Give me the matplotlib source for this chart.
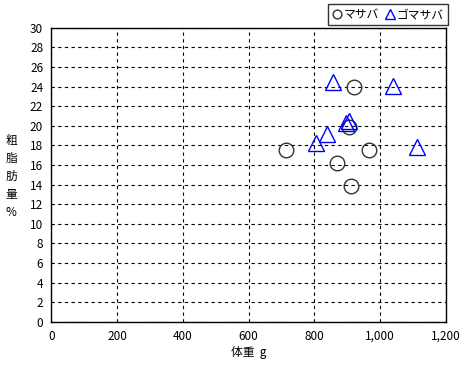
import matplotlib.pyplot as plt

plt.rcParams['font.family'] = ['Noto Sans CJK JP', 'DejaVu Sans']

# マサバ (circles)
masaba_w = [713, 920, 905, 966, 868, 912]
masaba_fat = [17.5, 24.0, 19.9, 17.5, 16.2, 13.8]

# ゴマサバ (triangles)
goma_w = [855, 1040, 906, 897, 837, 806, 1111]
goma_fat = [24.5, 24.1, 20.5, 20.3, 19.2, 18.2, 17.8]

xticks = [0, 200, 400, 600, 800, 1000, 1200]
xticklabels = ['0', '200', '400', '600', '800', '1,000', '1,200']
yticks = list(range(0, 31, 2))

fig = plt.figure(figsize=(4.68, 3.67), dpi=100)
ax = fig.add_axes([0.110, 0.1234, 0.843, 0.801])

ax.plot(masaba_w, masaba_fat, linestyle='none', marker='o', markersize=10.5,
        markerfacecolor='none', markeredgecolor='#333333', markeredgewidth=1.0,
        label='マサバ')
ax.plot(goma_w, goma_fat, linestyle='none', marker='^', markersize=11.5,
        markerfacecolor='none', markeredgecolor='#0000ff', markeredgewidth=1.0,
        label='ゴマサバ')

ax.set_xlim(0, 1200)
ax.set_ylim(0, 30)
ax.set_xticks(xticks)
ax.set_xticklabels(xticklabels)
ax.set_yticks(yticks)
ax.tick_params(length=0, labelsize=8.5, pad=6)
ax.grid(True, color='black', linestyle=(0, (3, 3)), linewidth=0.8)
for s in ax.spines.values():
    s.set_color('black')
    s.set_linewidth(1)

ax.set_xlabel('体重  g', fontsize=8.5, labelpad=2)
fig.text(0.024, 0.52, '粗\n脂\n肪\n量\n%', fontsize=8.5, ha='center', va='center',
         linespacing=1.5)

leg = fig.legend(loc='upper right', bbox_to_anchor=(0.957, 0.989), ncol=2,
                 fontsize=8.5, frameon=True, fancybox=False, edgecolor='black',
                 handlelength=0.8, handletextpad=0.2, columnspacing=0.5,
                 borderpad=0.35, borderaxespad=0, markerscale=0.6)
leg.get_frame().set_linewidth(1)

fig.savefig('out.png', dpi=100)
